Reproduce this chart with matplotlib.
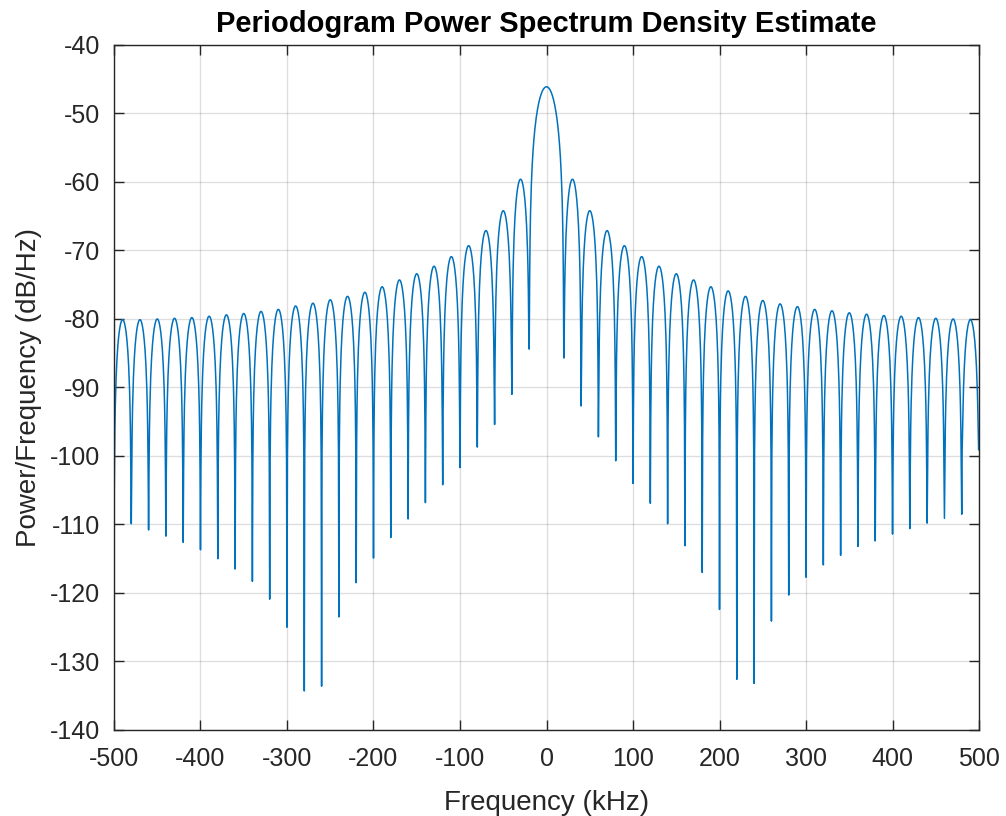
import numpy as np
import matplotlib
matplotlib.use("Agg")
import matplotlib.pyplot as plt

# ---- data ----
# lobe boundaries (nulls) in kHz; the main lobe spans -20..20
lobe_edges = list(range(-500, -19, 20)) + list(range(20, 501, 20))
# peak level (dB/Hz) of each lobe, left to right (49 lobes incl. main lobe)
left_peaks = [-80.1, -80.1, -80.0, -79.9, -79.8, -79.6, -79.4, -79.2, -78.9, -78.6,
              -78.1, -77.7, -77.2, -76.7, -76.1, -75.3, -74.3, -73.4, -72.3, -70.9,
              -69.3, -67.1, -64.2, -59.6]
main_peak = [-46.1]
right_peaks = [-59.6, -64.2, -67.1, -69.3, -70.9, -72.3, -73.4, -74.3, -75.3, -75.9,
               -76.7, -77.3, -77.8, -78.2, -78.6, -78.8, -79.1, -79.3, -79.5, -79.6,
               -79.8, -79.9, -80.0, -80.1]
# depth (dB/Hz) at each null / boundary, from -500 to 500 kHz
left_nulls = [-108.9, -109.9, -110.8, -111.7, -112.6, -113.7, -115.0, -116.5, -118.3,
              -120.9, -125.0, -134.3, -133.6, -123.5, -118.5, -114.9, -111.9, -109.2,
              -106.8, -104.2, -101.7, -98.7, -95.4, -91.0, -84.4]
right_nulls = [-85.7, -92.7, -97.2, -100.7, -104.0, -106.9, -109.9, -113.1, -117.0,
               -122.4, -132.6, -133.2, -124.1, -120.3, -117.7, -115.9, -114.5, -113.2,
               -112.4, -111.4, -110.6, -109.8, -109.1, -108.5, -99.1]

peaks = left_peaks + main_peak + right_peaks
nulls = left_nulls + right_nulls

# ---- build the trace lobe by lobe ----
freq = []
psd = []
for i, pk in enumerate(peaks):
    a, b = lobe_edges[i], lobe_edges[i + 1]
    freq.append(a)
    psd.append(nulls[i])
    t = np.arange(0.5, b - a, 0.5) / (b - a)
    lvl = pk + 20 * np.log10(np.sin(np.pi * t))
    lvl = np.maximum(lvl, max(nulls[i], nulls[i + 1]))
    freq.extend(list(a + t * (b - a)))
    psd.extend(list(lvl))
freq.append(lobe_edges[-1])
psd.append(nulls[-1])

xticks = list(range(-500, 501, 100))
yticks = list(range(-140, -39, 10))

# ---- plot ----
plt.rcParams['font.family'] = ['Liberation Sans', 'DejaVu Sans']
plt.rcParams['axes.unicode_minus'] = False
fig = plt.figure(figsize=(10.06, 8.16), dpi=100)
ax = fig.add_axes([0.1133, 0.1054, 0.8599, 0.8395])
ax.plot(freq, psd, color='#0072BD', linewidth=1.1)
ax.set_xlim(-500, 500)
ax.set_ylim(-140, -40)
ax.set_xticks(xticks)
ax.set_yticks(yticks)
ax.grid(True, color='#262626', alpha=0.15, linewidth=1.0)
ax.set_axisbelow(True)
for s in ax.spines.values():
    s.set_color('#262626')
    s.set_linewidth(1.0)
ax.tick_params(direction='in', length=7, width=1.0, colors='#262626',
               labelsize=18, top=True, right=True)
ax.tick_params(axis='x', pad=12)
ax.tick_params(axis='y', pad=10)
ax.set_xlabel('Frequency (kHz)', fontsize=20, color='#262626', labelpad=14)
ax.set_ylabel('Power/Frequency (dB/Hz)', fontsize=20, color='#262626', labelpad=6)
ax.set_title('Periodogram Power Spectrum Density Estimate', fontsize=21,
             fontweight='bold', color='black', pad=9)
fig.savefig('out.png', dpi=100)
